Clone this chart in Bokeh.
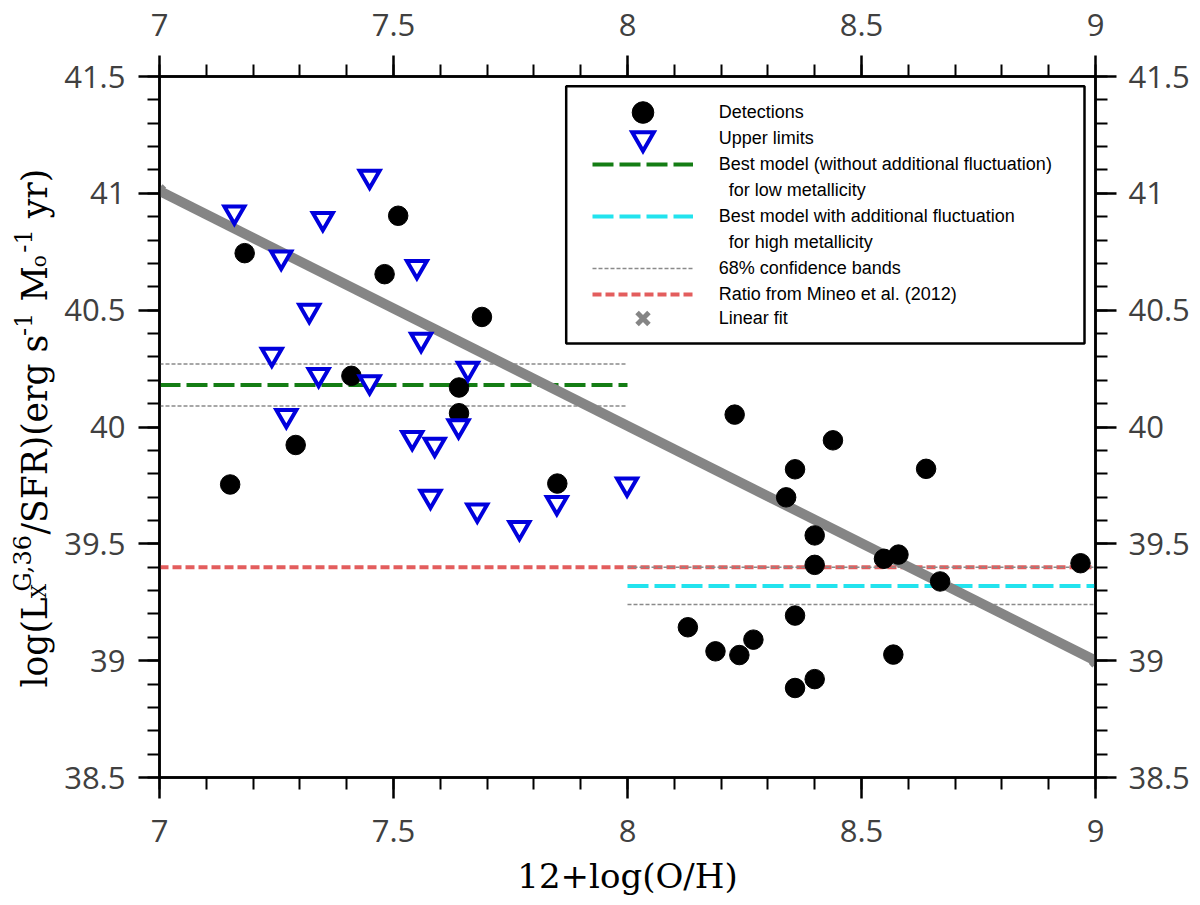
from math import pi
from bokeh.plotting import figure
from bokeh.layouts import row
from bokeh.core.properties import value
from bokeh.models import (Range1d, LinearAxis, FixedTicker, PrintfTickFormatter,
                          Legend, LegendItem, BoxAnnotation)
from bokeh.embed import file_html
from bokeh.resources import INLINE

# ---------------- data ----------------
det_x = [7.151, 7.182, 7.291, 7.410, 7.481, 7.510, 7.640, 7.640, 7.689, 7.850,
         8.129, 8.188, 8.229, 8.239, 8.269, 8.339, 8.358, 8.358, 8.358, 8.400,
         8.400, 8.400, 8.439, 8.548, 8.568, 8.579, 8.638, 8.668, 8.968]
det_y = [39.754, 40.744, 39.923, 40.219, 40.654, 40.904, 40.169, 40.059, 40.471, 39.758,
         39.143, 39.040, 40.053, 39.024, 39.090, 39.699, 39.819, 39.193, 38.883, 39.536,
         39.410, 38.921, 39.943, 39.436, 39.026, 39.454, 39.821, 39.339, 39.417]

ul_x = [7.160, 7.240, 7.260, 7.271, 7.320, 7.340, 7.349, 7.449, 7.449, 7.540,
        7.550, 7.559, 7.579, 7.588, 7.639, 7.659, 7.679, 7.769, 7.849, 7.999]
ul_y = [40.919, 40.310, 40.726, 40.048, 40.498, 40.224, 40.891, 41.072, 40.193, 39.954,
        40.686, 40.374, 39.703, 39.925, 40.004, 40.250, 39.644, 39.569, 39.676, 39.755]

low_x = [7.0, 8.0]
low_model = 40.18
low_band = [40.09, 40.27]

high_x = [8.0, 9.0]
high_model = 39.32
high_band = [39.24, 39.40]

mineo_x = [7.0, 9.0]
mineo_y = 39.40

fit_x = [7.0, 9.0]
fit_y = [41.01, 39.0]

x_ticks = [7, 7.5, 8, 8.5, 9]
y_ticks = [38.5, 39, 39.5, 40, 40.5, 41, 41.5]
x_minor = [round(7 + 0.1 * i, 2) for i in range(21)]
y_minor = [round(38.5 + 0.1 * i, 2) for i in range(31)]

X0, X1, Y0, Y1 = 7.0, 9.0, 38.5, 41.5
FW, FH = 936, 701          # frame size in px
FL, FT = 160, 77           # frame left/top in picture px
LABEL_W = 60               # width of the strip that holds the y-axis title
BORDER_TOP = FT - 1
BORDER_BOTTOM = 112

# ---------------- main figure ----------------
p = figure(frame_width=FW, frame_height=FH,
           x_range=Range1d(X0, X1), y_range=Range1d(Y0, Y1),
           x_axis_location=None, y_axis_location=None,
           output_backend="svg", toolbar_location=None,
           min_border_left=FL - 1 - LABEL_W, min_border_right=89,
           min_border_top=BORDER_TOP, min_border_bottom=BORDER_BOTTOM,
           background_fill_color="white", border_fill_color="white")
for g in p.grid:
    g.visible = False
p.outline_line_color = "black"
p.outline_line_width = 2.5

TICK_FONT = "Open Sans"


def make_axis(ticks, minor, side, standoff, label=None):
    ax = LinearAxis(ticker=FixedTicker(ticks=ticks, minor_ticks=minor),
                    formatter=PrintfTickFormatter(format="%g"))
    ax.axis_line_color = "black"
    ax.axis_line_width = 2.5
    ax.major_tick_line_color = "black"
    ax.minor_tick_line_color = "black"
    ax.major_tick_line_width = 2.5
    ax.minor_tick_line_width = 2
    ax.major_tick_out = 21
    ax.major_tick_in = 0
    ax.minor_tick_out = 12
    ax.minor_tick_in = 0
    ax.major_label_text_font = TICK_FONT
    ax.major_label_text_font_size = "31px"
    ax.major_label_text_color = "#404040"
    ax.major_label_standoff = standoff
    if label:
        ax.axis_label = label
        ax.axis_label_text_font = "DejaVu Serif"
        ax.axis_label_text_font_size = "34px"
        ax.axis_label_text_font_style = "normal"
        ax.axis_label_text_color = "black"
        ax.axis_label_standoff = 11
    p.add_layout(ax, side)
    return ax


make_axis(x_ticks, x_minor, "below", 21, "12+log(O/H)")
make_axis(x_ticks, x_minor, "above", 20)
make_axis(y_ticks, y_minor, "left", 13)
make_axis(y_ticks, y_minor, "right", 12)

# ---------------- glyphs ----------------
r_red = p.line(mineo_x, [mineo_y] * len(mineo_x), line_color="#e35d5d", line_width=4, line_dash="9 4")

r_band = None
for b in low_band:
    r_band = p.line(low_x, [b] * len(low_x), line_color="#8a8a8a", line_width=1.5, line_dash="4 2")
for b in high_band:
    p.line(high_x, [b] * len(high_x), line_color="#8a8a8a", line_width=1.5, line_dash="4 2")

r_green = p.line(low_x, [low_model] * len(low_x), line_color="#147d14", line_width=4, line_dash="21 6")
r_cyan = p.line(high_x, [high_model] * len(high_x), line_color="#22e3ee", line_width=4, line_dash="21 6")

p.line(fit_x, fit_y, line_color="#858585", line_width=10)
r_fit = p.scatter(fit_x, fit_y, marker="x", size=14, line_color="#858585", line_width=5)

r_det = p.scatter(det_x, det_y, marker="circle", size=19.5, fill_color="black", line_color="black")
r_ul = p.scatter(ul_x, ul_y, marker="inverted_triangle", size=20, fill_color="white",
                 line_color="#0000dd", line_width=4, line_join="miter")

blank = p.line(x=[], y=[], line_alpha=0)

# ---------------- legend ----------------
box = BoxAnnotation(left=406.7, right=925, top=691.3, bottom=434,
                    left_units="screen", right_units="screen", top_units="screen", bottom_units="screen",
                    fill_color="white", fill_alpha=1.0, line_color="black", line_alpha=1.0,
                    line_width=2.5)
p.add_layout(box)

LEG_STYLE = dict(glyph_width=101, spacing=0, padding=0, margin=0, label_standoff=26,
                 border_line_color=None, background_fill_alpha=0,
                 label_text_font="Liberation Sans", label_text_font_size="18px",
                 label_text_color="black")
GX = 432.7  # legend glyph left, frame-relative px


def add_legend(items, row_top_px, row_h):
    n = len(items)
    bottom = FT + FH - (row_top_px + n * row_h)
    lg = Legend(items=items, location=(GX, bottom), glyph_height=row_h, label_height=row_h, **LEG_STYLE)
    p.add_layout(lg)


add_legend([LegendItem(label="Detections", renderers=[r_det])], 86.0, 54)
add_legend([LegendItem(label="Upper limits", renderers=[r_ul])], 112.0, 54)
add_legend([
    LegendItem(label="Best model (without additional fluctuation)", renderers=[r_green]),
    LegendItem(label="\u00a0\u00a0for low metallicity", renderers=[blank]),
    LegendItem(label="Best model with additional fluctuation", renderers=[r_cyan]),
    LegendItem(label="\u00a0\u00a0for high metallicity", renderers=[blank]),
    LegendItem(label="68% confidence bands", renderers=[r_band]),
    LegendItem(label="Ratio from Mineo et al. (2012)", renderers=[r_red]),
], 152.0, 26)
add_legend([LegendItem(label="Linear fit", renderers=[r_fit])], 298.0, 42)

# ---------------- y axis title strip (rich text pieces) ----------------
# The strip has the same vertical frame geometry as the main plot; its y coordinate is
# measured in px upwards from the frame bottom, x in px from the strip's left edge.
lab = figure(frame_width=LABEL_W, frame_height=FH, x_range=Range1d(0, LABEL_W), y_range=Range1d(0, FH),
             x_axis_location=None, y_axis_location=None, output_backend="svg",
             toolbar_location=None, min_border_left=0, min_border_right=0,
             min_border_top=BORDER_TOP, min_border_bottom=BORDER_BOTTOM,
             border_fill_color="white", background_fill_color="white")
for g in lab.grid:
    g.visible = False
lab.outline_line_color = None

MAIN = "34.5px"
SUP = "24px"
SUB = "20px"
B_MAIN, B_SUB, B_SUP = 34.0, 38.5, 22.5   # baselines (px from left edge)
# (text, start position in px from picture top, baseline, font size)
ylabel_pieces = [
    ("log(L", 688.0, B_MAIN, MAIN),
    ("X", 598.7, B_SUB, SUB),
    ("G,36", 592.0, B_SUP, SUP),
    ("/SFR)(erg s", 535.0, B_MAIN, MAIN),
    ("-1", 336.5, B_SUP, SUP),
    ("M", 302.0, B_MAIN, MAIN),
    ("o", 267.7, B_SUB, SUB),
    ("-1", 253.2, B_SUP, SUP),
    ("yr)", 218.7, B_MAIN, MAIN),
]
for fs in (MAIN, SUP, SUB):
    sel = [pc for pc in ylabel_pieces if pc[3] == fs]
    lab.text(x=[pc[2] for pc in sel], y=[FT + FH - pc[1] for pc in sel], text=[pc[0] for pc in sel],
             angle=pi / 2, text_font=value("DejaVu Serif"), text_font_size=value(fs),
             text_color="black", text_align="left", text_baseline="alphabetic")

layout = row(lab, p)
open("out.html", "w").write(file_html(layout, INLINE))
